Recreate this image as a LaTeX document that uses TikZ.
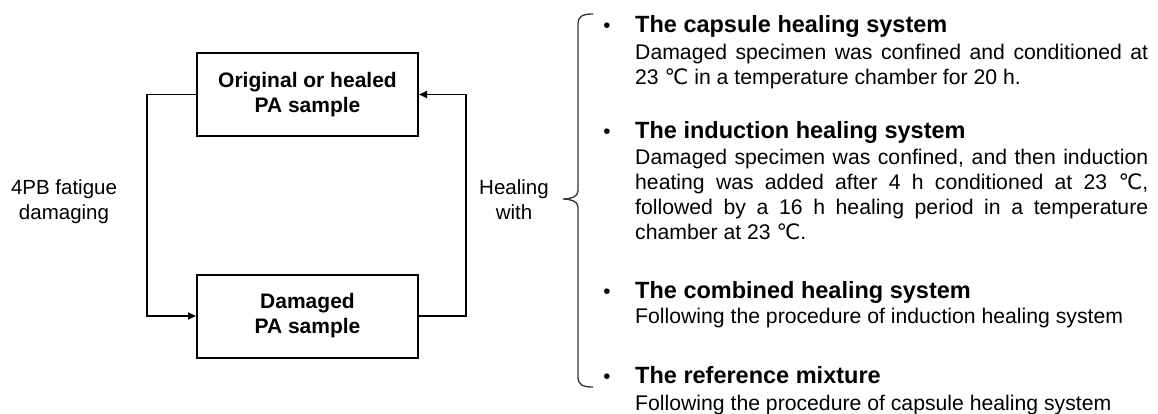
\documentclass[tikz,border=0pt]{standalone}
\usepackage{fontspec}
\setmainfont{Liberation Sans}
\newfontfamily\celsfont{DejaVu Sans}
\usetikzlibrary{arrows.meta,positioning,calc}
\newcommand{\degC}{{\celsfont\char"2103}}
\newcommand{\itemhead}[1]{{\bfseries\fontsize{23.5}{25}\selectfont #1}}
\tikzset{
  blk/.style  ={draw,line width=2pt,minimum width=221pt,minimum height=83pt,align=center,
                font=\bfseries\fontsize{21}{25}\selectfont},
  flow/.style ={-{Triangle[length=8pt,width=7pt]},line width=1.8pt},
  lbl/.style  ={align=center,inner sep=0pt,font=\fontsize{20.5}{25}\selectfont},
  item/.style ={anchor=base west,inner sep=0pt,text width=513pt,align=justify,
                font=\fontsize{21.2}{25}\selectfont},
  bul/.style  ={anchor=base,inner sep=0pt,font=\fontsize{20.5}{25}\selectfont},
  brk/.style  ={line width=1.3pt,black!80},
}
\begin{document}
\begin{tikzpicture}[x=1pt,y=-1pt]
  \useasboundingbox (0,0) rectangle (1158,414);
  % the loop
  \node[blk] (orig) at (307.5,94.5) {Original or healed\\PA sample};
  \node[blk] (dmg)  at (307.5,316)  {Damaged\\PA sample};
  \draw[flow] (orig.west) -- ++(-49,0) |- (dmg.west);
  \draw[flow] (dmg.east) -- ++(47,0) |- (orig.east);
  \node[lbl] (fat)  at (64,202)  {4PB fatigue\\damaging};
  \node[lbl] (heal) at (514,200) {Healing\\with};
  % bracket
  \draw[brk] (593,14) .. controls (583,14) and (578,16) .. (578,24) -- (578,191)
       .. controls (578,197) and (570,199) .. (563,199)
       .. controls (570,199) and (578,201) .. (578,207) -- (578,377)
       .. controls (578,385) and (583,387) .. (593,387);
  % healing systems
  \node[bul] (b1) at (607,33)  {•};
  \node[bul] (b2) at (607,139) {•};
  \node[bul] (b3) at (607,298) {•};
  \node[bul] (b4) at (607,383) {•};
  \node[item] (capsule) at (635,33) {\itemhead{The capsule healing system}\\[2pt]
    Damaged specimen was confined and conditioned at\linebreak
    23 \degC{} in a temperature chamber for 20 h.};
  \node[item] (induct) at (635,139) {\itemhead{The induction healing system}\\[1pt]
    Damaged specimen was confined, and then induction\linebreak
    heating was added after 4 h conditioned at 23 \degC,\linebreak
    followed by a 16 h healing period in a temperature\linebreak
    chamber at 23 \degC.};
  \node[item] (comb) at (635,298) {\itemhead{The combined healing system}\\[0pt]
    Following the procedure of induction healing system};
  \node[item] (refmix) at (635,383) {\itemhead{The reference mixture}\\[2pt]
    Following the procedure of capsule healing system};
\end{tikzpicture}
\end{document}
